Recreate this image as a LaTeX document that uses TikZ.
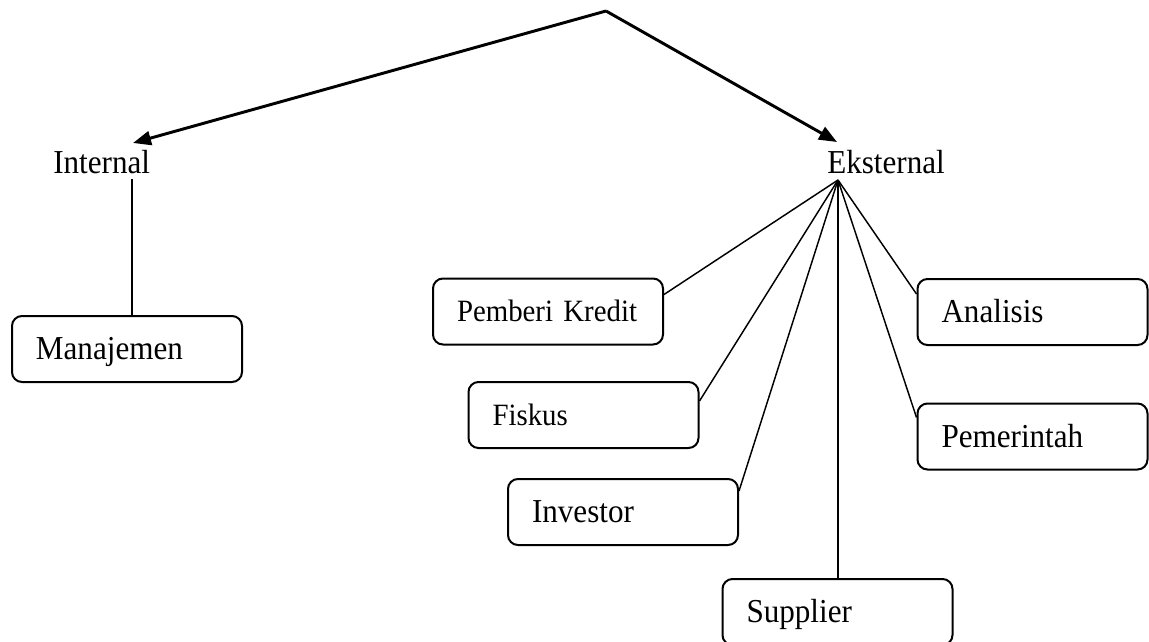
\documentclass[tikz,border=0pt]{standalone}
\usepackage{fontspec}
\setmainfont{Liberation Serif}[FakeStretch=0.93]
\usetikzlibrary{arrows.meta,calc}
\begin{document}
\begin{tikzpicture}[x=0.75pt,y=-0.75pt,
  every node/.style={inner sep=0pt},
  lbl/.style={font=\fontsize{25.1}{30}\selectfont, anchor=base west},
  box/.style={draw, line width=1.5pt, rounded corners=7.5pt,
    minimum width=172.5pt, minimum height=49.5pt, text width=136.5pt,
    align=left, inner xsep=18pt, inner ysep=0pt, text height=16.4pt, text depth=0pt,
    font=\fontsize{25.1}{30}\selectfont},
  smallbox/.style={box, text height=15.2pt, font=\fontsize{23.25}{28}\selectfont},
  arr/.style={line width=2.2pt, -{Triangle[length=13.5pt,width=10.5pt]}},
  fan/.style={line width=1.1pt},
  stem/.style={line width=1.2pt}
]
\useasboundingbox (0,0) rectangle (1149,642);

\coordinate (apex) at (606,11);
\node[lbl] (internal) at (53,173) {Internal};
\node[lbl] (eksternal) at (827,173) {Eksternal};

\node[box] (man) at (127,349) {Manajemen};
\node[smallbox] (pk) at (548,311.5) {Pemberi Kredit};
\node[smallbox] (fis) at (583.5,415) {Fiskus};
\node[box] (inv) at (623,512) {Investor};
\node[box] (sup) at (837.5,612) {Supplier};
\node[box] (ana) at (1032.5,312) {Analisis};
\node[box] (pem) at (1032.5,436.5) {Pemerintah};

\coordinate (inTip) at ($(internal.base west)+(80,-30)$);
\coordinate (exTip) at ($(eksternal.base west)+(10,-31)$);
\coordinate (hub) at ($(eksternal.base west)+(11,7)$);
\coordinate (inBot) at ($(internal.base west)+(79,6)$);

\draw[arr] (apex) -- (inTip);
\draw[arr] (apex) -- (exTip);

\draw[stem] (inBot) -- (inBot |- man.north);

\draw[fan] (hub) -- ($(pk.north east)+(0,17)$);
\draw[fan] (hub) -- ($(fis.north east)+(0,20)$);
\draw[fan] (hub) -- ($(inv.north east)+(0,13)$);
\draw[fan] (hub) -- (hub |- sup.north);
\draw[fan] (hub) -- ($(ana.north west)+(0,16)$);
\draw[fan] (hub) -- ($(pem.north west)+(0,15)$);
\end{tikzpicture}
\end{document}
